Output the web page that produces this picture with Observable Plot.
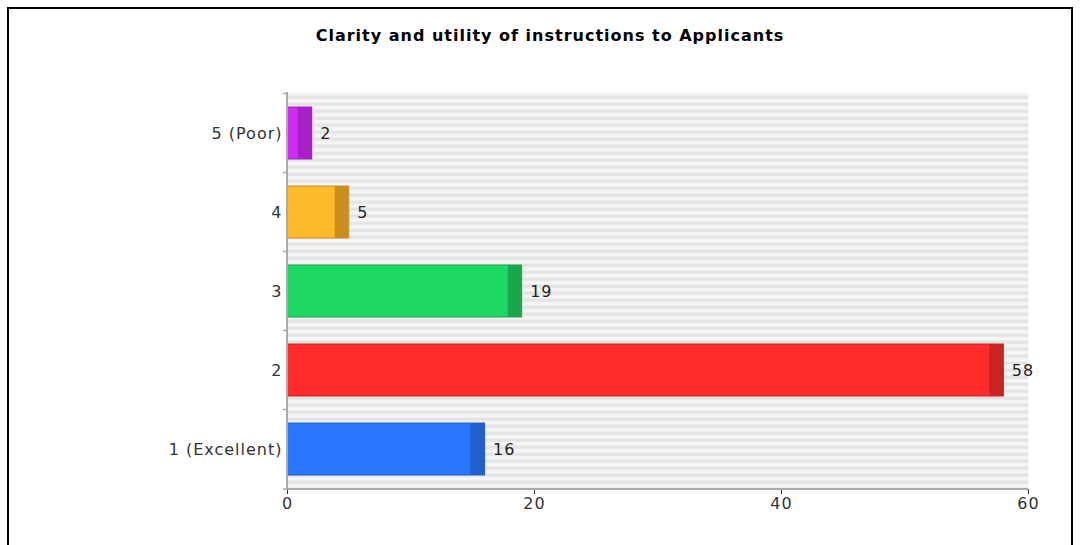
<!DOCTYPE html>
<html><head><meta charset="utf-8">
<script src="https://cdn.jsdelivr.net/npm/d3@7"></script>
<script src="https://cdn.jsdelivr.net/npm/@observablehq/plot@0.6"></script>
<style>
body{margin:0;background:#fff;width:1080px;height:545px;overflow:hidden;position:relative;font-family:"DejaVu Sans",sans-serif;}
#border{position:absolute;left:7px;top:7px;width:1066px;height:620px;border:2px solid #000;box-sizing:border-box;}
#title{position:absolute;top:26px;left:0;width:1100px;text-align:center;font:bold 16px "DejaVu Sans",sans-serif;letter-spacing:1px;color:#000;}
#chart{position:absolute;left:0;top:60px;}
</style></head><body>
<div id="border"></div>
<div id="title">Clarity and utility of instructions to Applicants</div>
<div id="chart"></div>
<script>
const categories = ["5 (Poor)", "4", "3", "2", "1 (Excellent)"];
const counts = [2, 5, 19, 58, 16];
const fillColors = ["#d02cf2", "#ffba2c", "#1ed864", "#ff2a2a", "#2b76ff"];
const edgeColors = ["#a821c6", "#c98e22", "#1aa64c", "#cc2222", "#205fcc"];
const xTicks = [0, 20, 40, 60];

const data = categories.map((c, i) => ({category: c, count: counts[i], fill: fillColors[i], edge: edgeColors[i]}));

const plot = Plot.plot({
  width: 1080, height: 485,
  marginTop: 32, marginBottom: 56, marginLeft: 287, marginRight: 52,
  style: {fontFamily: "DejaVu Sans, sans-serif", fontSize: "16px", letterSpacing: "1px", color: "#333", background: "transparent", overflow: "visible"},
  x: {domain: [0, 60], ticks: xTicks, tickSize: 5, tickPadding: 3, label: null},
  y: {domain: categories, paddingInner: 0.345, paddingOuter: 0.1725, tickSize: 0, tickPadding: 5, label: null},
  marks: [
    Plot.frame({fill: "#eeeeee", stroke: null}),
    Plot.barX(data, {y: "category", x: "count", fill: "fill", stroke: "edge", strokeWidth: 1}),
    Plot.barX(data, {y: "category", x1: "count", x2: "count", insetLeft: -14, fill: "edge"}),
    Plot.text(data, {y: "category", x: "count", text: d => String(d.count), dx: 8, textAnchor: "start", fill: "#222", fontSize: 16})
  ]
});
document.getElementById("chart").appendChild(plot);

const svg = d3.select(plot.tagName.toLowerCase() === "svg" ? plot : plot.querySelector("svg"));
svg.insert("defs", ":first-child").html(
  '<pattern id="stripes" x="0" y="0" width="8" height="7" patternUnits="userSpaceOnUse">' +
  '<rect width="8" height="7" fill="#f6f6f6"/><rect y="0" width="8" height="3.5" fill="#e4e4e4"/></pattern>');
svg.selectAll('[aria-label="frame"]').attr("fill", "url(#stripes)");
svg.selectAll('[aria-label="frame"] rect').attr("fill", "url(#stripes)");

const xs = plot.scale("x"), ys = plot.scale("y");
const x0 = xs.range[0], x1 = xs.range[1];
const yr = ys.range;
const yTop = Math.min(...yr), yBot = Math.max(...yr);
const g = svg.append("g").attr("stroke", "#aaaaaa");
g.append("line").attr("x1", x0).attr("x2", x0).attr("y1", yTop).attr("y2", yBot + 1).attr("stroke-width", 2);
g.append("line").attr("x1", x0).attr("x2", x1).attr("y1", yBot).attr("y2", yBot).attr("stroke-width", 2);
const bounds = categories.map(c => ys.apply(c) - ys.step / 2 + ys.bandwidth / 2);
bounds.push(yBot);
for (const b of bounds) {
  g.append("line").attr("x1", x0 - 4).attr("x2", x0).attr("y1", b).attr("y2", b).attr("stroke-width", 1.5);
}
</script>
</body></html>
